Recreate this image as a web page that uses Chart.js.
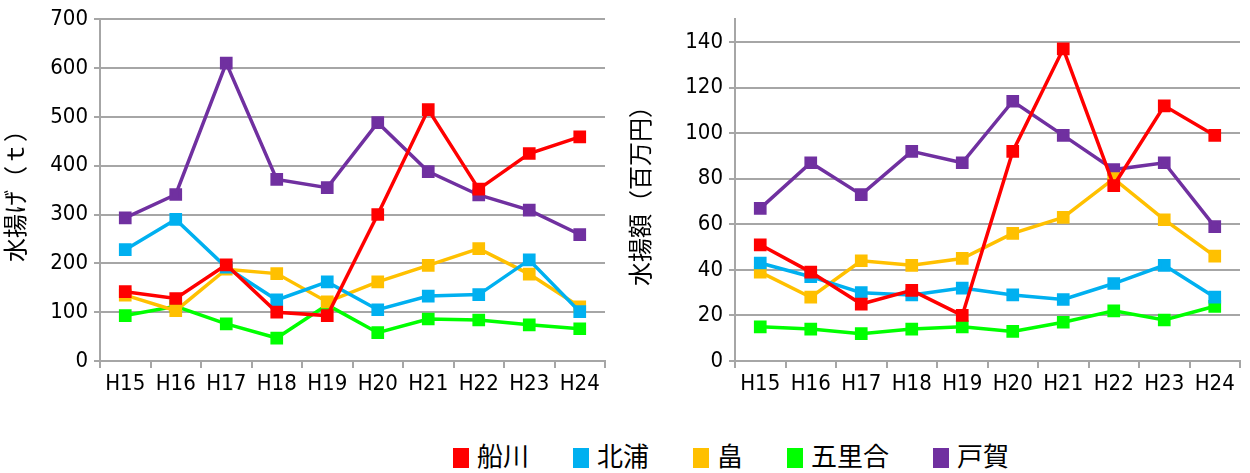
<!DOCTYPE html>
<html>
<head>
<meta charset="utf-8">
<script src="https://cdn.jsdelivr.net/npm/chart.js@4"></script>
<style>
  body { margin: 0; background: #fff; width: 1250px; height: 473px; position: relative; overflow: hidden; }
  .box { position: absolute; top: 0; height: 410px; }
  #legend { position: absolute; left: 0; width: 1462px; top: 438px; text-align: center; font-family: "Noto Sans CJK JP", sans-serif; font-size: 26px; line-height: 34px; white-space: nowrap; }
  #legend span.item { display: inline-block; margin: 0 22px; }
  #legend i { display: inline-block; width: 16px; height: 20px; margin-right: 8px; vertical-align: -2px; }
</style>
</head>
<body>
<div class="box" style="left:0;width:620px"><canvas id="volumeChart"></canvas></div>
<div class="box" style="left:625px;width:625px"><canvas id="valueChart"></canvas></div>
<div id="legend"></div>
<script>
// Categories and series
const years = ['H15', 'H16', 'H17', 'H18', 'H19', 'H20', 'H21', 'H22', 'H23', 'H24'];
const seriesNames = ['船川', '北浦', '畠', '五里合', '戸賀'];
const seriesColors = ['#FF0000', '#00B0F0', '#FFC000', '#00FF00', '#7030A0'];

// 水揚げ (t)
const volFunakawa = [142, 128, 197, 100, 93, 300, 515, 352, 425, 459];
const volKitaura = [228, 290, 192, 125, 162, 105, 133, 136, 207, 101];
const volHatake = [135, 103, 188, 179, 121, 162, 196, 230, 178, 111];
const volOirai = [93, 112, 76, 47, 115, 58, 86, 84, 74, 66];
const volToga = [293, 341, 610, 372, 355, 488, 388, 340, 309, 259];

// 水揚額 (百万円)
const valFunakawa = [51, 39, 25, 31, 20, 92, 137, 77, 112, 99];
const valKitaura = [43, 37, 30, 29, 32, 29, 27, 34, 42, 28];
const valHatake = [39, 28, 44, 42, 45, 56, 63, 80, 62, 46];
const valOirai = [15, 14, 12, 14, 15, 13, 17, 22, 18, 24];
const valToga = [67, 87, 73, 92, 87, 114, 99, 84, 87, 59];

// y tick labels
const volTicks = [0, 100, 200, 300, 400, 500, 600, 700];
const valTicks = [0, 20, 40, 60, 80, 100, 120, 140];

const tickFont = { family: '"DejaVu Sans Condensed", "Liberation Sans Narrow", sans-serif', size: 22 };
const titleFont = { family: '"Noto Sans CJK JP", sans-serif', size: 24 };
const gridColor = '#A6A6A6';

function makeDatasets(list) {
  return list.map((values, i) => ({
    label: seriesNames[i],
    data: values,
    borderColor: seriesColors[i],
    backgroundColor: seriesColors[i],
    borderWidth: 3.5,
    pointStyle: 'rect',
    pointRadius: 6.5,
    pointHoverRadius: 6.5,
    tension: 0,
  }));
}

function makeChart(id, datasets, tickValues, yMax, yTitle, yWidth, padRight) {
  const topLabel = tickValues[tickValues.length - 1];
  return new Chart(document.getElementById(id), {
    type: 'line',
    data: { labels: years, datasets: datasets },
    options: {
      responsive: true,
      maintainAspectRatio: false,
      animation: false,
      layout: { padding: { top: 13, right: padRight, left: 0, bottom: 0 } },
      plugins: { legend: { display: false }, tooltip: { enabled: false } },
      scales: {
        x: {
          offset: true,
          grid: { offset: true, drawOnChartArea: false, drawTicks: true, tickLength: 7, color: gridColor, lineWidth: 2 },
          border: { color: gridColor, width: 2 },
          ticks: { color: '#000', font: tickFont, padding: 3, maxRotation: 0, autoSkip: false },
          afterFit: (s) => { s.height = 49; },
        },
        y: {
          min: 0,
          max: yMax,
          afterBuildTicks: (s) => {
            const vals = tickValues.slice();
            if (yMax > topLabel) vals.push(yMax);
            s.ticks = vals.map((v) => ({ value: v }));
          },
          ticks: {
            color: '#000',
            font: tickFont,
            padding: 6,
            callback: (v) => (v > topLabel ? '' : v),
          },
          grid: {
            color: (c) => (c.tick && c.tick.value > topLabel ? 'rgba(0,0,0,0)' : gridColor),
            lineWidth: 2,
            tickLength: 6,
          },
          border: { color: gridColor, width: 2 },
          title: { display: true, text: yTitle, color: '#000', font: titleFont, padding: 0 },
          afterFit: (s) => { s.width = yWidth; },
        },
      },
    },
  });
}

makeChart('volumeChart',
  makeDatasets([volFunakawa, volKitaura, volHatake, volOirai, volToga]),
  volTicks, 700, '水揚げ（ｔ）', 100, 15);

makeChart('valueChart',
  makeDatasets([valFunakawa, valKitaura, valHatake, valOirai, valToga]),
  valTicks, 150, '水揚額（百万円）', 110, 5);

// Shared legend under both charts
const legend = document.getElementById('legend');
seriesNames.forEach((name, i) => {
  const item = document.createElement('span');
  item.className = 'item';
  item.innerHTML = '<i style="background:' + seriesColors[i] + '"></i>' + name;
  legend.appendChild(item);
});
</script>
</body>
</html>
